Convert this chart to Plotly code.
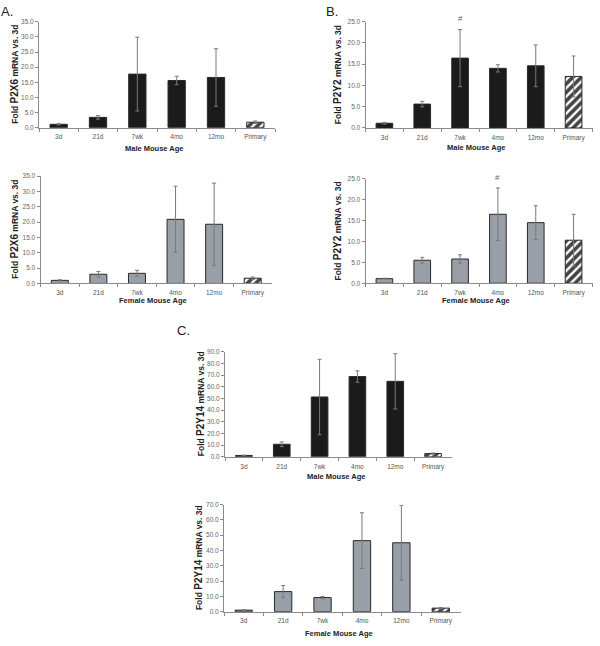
import plotly.graph_objects as go

# ---------------- data ----------------
categories = ["3d", "21d", "7wk", "4mo", "12mo", "Primary"]

p2x6_male = [1.1, 3.4, 17.7, 15.6, 16.6, 1.8]
p2x6_male_err = [0.2, 0.6, 12.2, 1.4, 9.5, 0.4]
p2x6_female = [1.0, 3.0, 3.3, 20.9, 19.3, 1.7]
p2x6_female_err = [0.2, 0.9, 1.0, 10.8, 13.4, 0.4]

p2y2_male = [1.1, 5.6, 16.4, 14.0, 14.6, 12.1]
p2y2_male_err = [0.2, 0.65, 6.7, 0.85, 4.9, 4.8]
p2y2_female = [1.1, 5.5, 5.8, 16.5, 14.5, 10.3]
p2y2_female_err = [0.1, 0.7, 1.0, 6.3, 4.05, 6.2]

p2y14_male = [1.1, 10.7, 51.2, 68.7, 64.6, 2.7]
p2y14_male_err = [0.3, 2.0, 32.3, 4.9, 23.7, 0.5]
p2y14_female = [1.0, 13.1, 9.2, 46.4, 45.0, 2.3]
p2y14_female_err = [0.3, 3.95, 0.75, 18.2, 24.5, 0.4]

# ---------------- styling ----------------
W, H = 600, 646
MALE = "#1b1b1b"
FEMALE = "#989fa7"
FONT = "Liberation Sans, Arial, sans-serif"


def px_x(v):
    return v / W


def px_y(v):
    return 1 - v / H


panels = [
    # values, errs, fill, x0, x1, ytop, ybot, ymax, dtick, gene, sex, ytitle_x, xtitle_y
    (p2x6_male, p2x6_male_err, MALE, 39, 275, 18, 125, 35, 5, "P2X6", "Male", 15, 146),
    (p2x6_female, p2x6_female_err, FEMALE, 40.5, 272, 174, 282.5, 35, 5, "P2X6", "Female", 15, 300),
    (p2y2_male, p2y2_male_err, MALE, 365.5, 592.5, 17.7, 125.3, 25, 5, "P2Y2", "Male", 337.5, 145.5),
    (p2y2_female, p2y2_female_err, FEMALE, 365.5, 592.5, 176.7, 282.3, 25, 5, "P2Y2", "Female", 337.5, 300),
    (p2y14_male, p2y14_male_err, MALE, 225, 452, 351.5, 457.7, 90, 10, "P2Y14", "Male", 200, 478),
    (p2y14_female, p2y14_female_err, FEMALE, 224, 460.5, 506, 614.3, 70, 10, "P2Y14", "Female", 198, 636),
]

fig = go.Figure()
annotations = []
layout_axes = {}

for i, (vals, errs, fill, x0, x1, yt, yb, ymax, dt, gene, sex, ytx, xty) in enumerate(panels):
    n = i + 1
    xa = "x" if n == 1 else f"x{n}"
    ya = "y" if n == 1 else f"y{n}"
    colors = [fill] * 5 + ["white"]
    shapes = [""] * 5 + ["/"]
    fig.add_trace(go.Bar(
        x=categories, y=vals, xaxis=xa, yaxis=ya, width=0.44,
        marker=dict(color=colors, line=dict(color="#2a2a2a", width=1),
                    pattern=dict(shape=shapes, fgcolor="#000000", fgopacity=1,
                                 size=6, solidity=0.6)),
        error_y=dict(type="data", array=errs, visible=True, color="#7a7a7a",
                     thickness=1, width=2),
        showlegend=False, hoverinfo="x+y",
    ))
    xkey = "xaxis" if n == 1 else f"xaxis{n}"
    ykey = "yaxis" if n == 1 else f"yaxis{n}"
    layout_axes[xkey] = dict(
        domain=[px_x(x0), px_x(x1)], anchor=ya, type="category",
        showline=True, linecolor="#8a8a8a", linewidth=1,
        ticks="outside", tickson="boundaries", ticklen=3, tickcolor="#8a8a8a",
        ticklabelstandoff=3,
        tickfont=dict(size=6.5, color="#555555", family=FONT),
        showgrid=False, zeroline=False, fixedrange=True,
    )
    layout_axes[ykey] = dict(
        domain=[px_y(yb), px_y(yt)], anchor=xa, range=[0, ymax], dtick=dt,
        tickformat=".1f", showline=True, linecolor="#8a8a8a", linewidth=1,
        ticks="outside", ticklen=3, tickcolor="#8a8a8a",
        tickfont=dict(size=6.5, color="#666666", family=FONT),
        showgrid=False, zeroline=False, fixedrange=True,
    )
    # y title
    annotations.append(dict(
        xref="paper", yref="paper", x=px_x(ytx), y=px_y((yt + yb) / 2),
        text=f"<b>Fold <span style='font-size:10px'>{gene}</span> mRNA vs. 3d</b>",
        textangle=-90, showarrow=False, xanchor="center", yanchor="middle",
        font=dict(size=8.5, color="#222222", family=FONT),
    ))
    # x title
    annotations.append(dict(
        xref="paper", yref="paper", x=px_x((x0 + x1) / 2 - 3), y=px_y(xty),
        text=f"<b>{sex} Mouse Age</b>", showarrow=False,
        xanchor="center", yanchor="middle",
        font=dict(size=7.5, color="#222222", family=FONT),
    ))

# significance marks
annotations.append(dict(xref="x3", yref="y3", x="7wk", y=p2y2_male[2] + p2y2_male_err[2],
                        text="#", showarrow=False, yanchor="middle", yshift=11,
                        font=dict(size=8, color="#666666", family=FONT)))
annotations.append(dict(xref="x4", yref="y4", x="4mo", y=p2y2_female[3] + p2y2_female_err[3],
                        text="#", showarrow=False, yanchor="middle", yshift=10,
                        font=dict(size=8, color="#666666", family=FONT)))

# panel letters
for lbl, lx, ly in [("A.", 7, 8), ("B.", 332, 8), ("C.", 183, 330)]:
    annotations.append(dict(xref="paper", yref="paper", x=px_x(lx), y=px_y(ly),
                            text=lbl, showarrow=False, xanchor="center", yanchor="middle",
                            font=dict(size=13, color="#222222", family=FONT)))

fig.update_layout(
    width=W, height=H, margin=dict(l=0, r=0, t=0, b=0),
    paper_bgcolor="white", plot_bgcolor="white",
    annotations=annotations, bargap=0.56,
    **layout_axes,
)

fig.write_html(
    "out.html",
    config={"displayModeBar": False},
    post_script="document.body.style.margin='0';document.body.style.overflow='hidden';",
)
